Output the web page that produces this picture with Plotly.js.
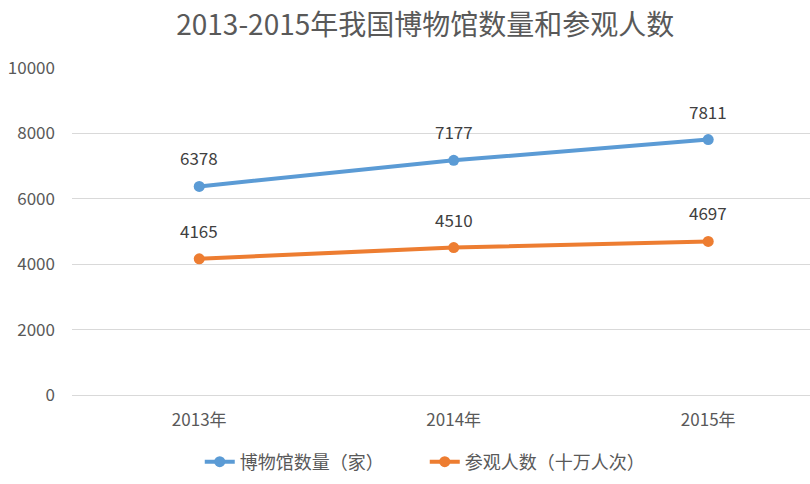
<!DOCTYPE html>
<html>
<head>
<meta charset="utf-8">
<script src="https://cdn.plot.ly/plotly-3.0.1.min.js"></script>
<style>html,body{margin:0;padding:0;background:#fff;}#chart{width:810px;height:484px;}</style>
</head>
<body>
<div id="chart"></div>
<script>
const categories = ["2013年", "2014年", "2015年"];
const museums = [6378, 7177, 7811];
const visitors = [4165, 4510, 4697];
const seriesNames = ["博物馆数量（家）", "参观人数（十万人次）"];
const yTicks = [0, 2000, 4000, 6000, 8000, 10000];

const font = '"Noto Sans CJK SC", "Open Sans", sans-serif';
function trace(vals, name, color) {
  return {
    x: categories, y: vals, name: name, type: 'scatter', mode: 'lines+markers',
    line: {color: color, width: 4},
    marker: {color: color, size: 11}
  };
}
const data = [trace(museums, seriesNames[0], '#5B9BD5'), trace(visitors, seriesNames[1], '#ED7D31')];
const annotations = [];
[museums, visitors].forEach(vals => vals.forEach((v, i) => annotations.push({
  x: categories[i], y: v, xref: 'x', yref: 'y', text: String(v), showarrow: false,
  yanchor: 'bottom', yshift: 14, font: {family: font, size: 17, color: '#404040'}
})));
const layout = {
  width: 810, height: 484,
  margin: {l: 72, r: 0, t: 68, b: 89},
  paper_bgcolor: '#fff', plot_bgcolor: '#fff',
  annotations: annotations,
  title: {text: '2013-2015年我国博物馆数量和参观人数', font: {family: font, size: 28, color: '#595959'}, x: 0.525, xanchor: 'center', y: 0.948, yanchor: 'middle'},
  xaxis: {type: 'category', range: [-0.5, 2.4], showgrid: false, zeroline: false, showline: false,
    ticks: '', ticklabelstandoff: 13, tickfont: {family: font, size: 17, color: '#595959'}},
  yaxis: {range: [0, 10000], tickvals: yTicks, ticktext: yTicks.map(String), showgrid: true, gridcolor: '#d9d9d9', gridwidth: 1,
    zeroline: true, zerolinecolor: '#d9d9d9', zerolinewidth: 1, showline: false, ticks: '',
    ticklabelstandoff: 16, tickfont: {family: font, size: 17, color: '#595959'}, fixedrange: true},
  showlegend: true,
  legend: {orientation: 'h', x: 0.478, xanchor: 'center', y: -0.205, yanchor: 'middle', entrywidth: 180, entrywidthmode: 'pixels',
    font: {family: font, size: 18, color: '#595959'}, traceorder: 'normal'}
};
Plotly.newPlot('chart', data, layout, {displayModeBar: false, staticPlot: true});
</script>
</body>
</html>
